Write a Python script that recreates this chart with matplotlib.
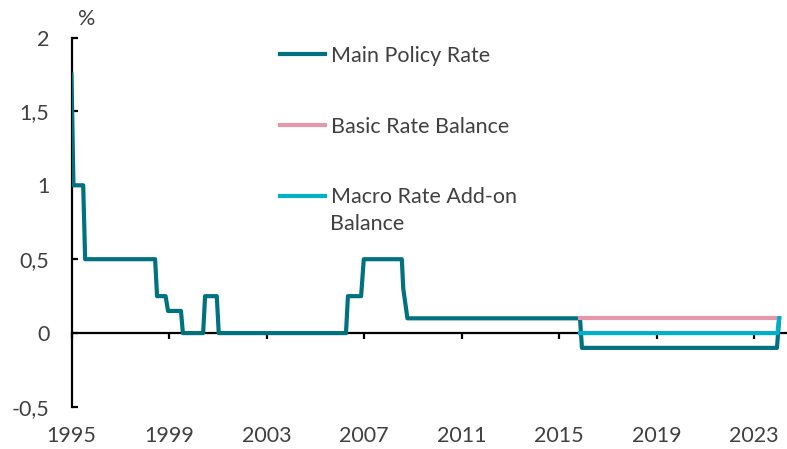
import numpy as np
import matplotlib
matplotlib.use("Agg")
from matplotlib import pyplot as plt

# main policy rate, vertices (year, %)
main_dates = [1995.0, 1995.08, 1995.48, 1995.56, 1998.43, 1998.51, 1998.86, 1998.96,
              1999.49, 1999.57, 2000.40, 2000.48, 2000.96, 2001.04, 2006.26, 2006.34,
              2006.88, 2006.99, 2008.55, 2008.61, 2008.78, 2015.86, 2015.94, 2023.94,
              2024.03]
main_rate = [1.75, 1.0, 1.0, 0.5, 0.5, 0.25, 0.25, 0.15,
             0.15, 0.0, 0.0, 0.25, 0.25, 0.0, 0.0, 0.25,
             0.25, 0.5, 0.5, 0.3, 0.1, 0.1, -0.1, -0.1,
             0.1]

basic_dates = [2015.86, 2023.88]
basic_rate = [0.1, 0.1]

macro_dates = [2015.86, 2023.96, 2024.03]
macro_rate = [0.0, 0.0, 0.1]

xticks = [1995, 1999, 2003, 2007, 2011, 2015, 2019, 2023]
yticks = [-0.5, 0, 0.5, 1, 1.5, 2]
ytick_labels = ['-0,5', '0', '0,5', '1', '1,5', '2']

c_main = '#00727F'
c_basic = '#E597AB'
c_macro = '#00AFC8'

plt.rcParams['font.family'] = ['Lato', 'DejaVu Sans']
plt.rcParams['font.size'] = 15.5
txt_col = '#404040'

fig = plt.figure(figsize=(7.87, 4.49), dpi=100)
ax = fig.add_axes([71.5/787, 1-407/449, (786-71.5)/787, (407-37.5)/449])

ax.plot(main_dates, main_rate, color=c_main, lw=3, zorder=3, label='Main Policy Rate')
ax.plot(basic_dates, basic_rate, color=c_basic, lw=3, zorder=3, label='Basic Rate Balance')
ax.plot(macro_dates, macro_rate, color=c_macro, lw=3, zorder=3, label='Macro Rate Add-on')

ax.set_xlim(1995, 2024.31)
ax.set_ylim(-0.5, 2)

for s in ['top', 'right']:
    ax.spines[s].set_visible(False)
ax.spines['bottom'].set_position(('data', 0))
ax.spines['bottom'].set_linewidth(1.6)
ax.spines['left'].set_linewidth(1.6)

ax.set_xticks(xticks)
ax.set_xticklabels([str(y) for y in xticks])
ax.set_yticks(yticks)
ax.set_yticklabels(ytick_labels)
ax.tick_params(axis='x', direction='out', length=4, width=1.6, pad=63, colors=txt_col)
ax.tick_params(axis='y', direction='in', length=4, width=1.6, pad=16, colors=txt_col)
ax.tick_params(axis='both', color='black')

leg = ax.legend(loc='upper left', bbox_to_anchor=(280/787, 1-46/449), bbox_transform=fig.transFigure,
                frameon=False, borderpad=0, borderaxespad=0, handlelength=2.1,
                handletextpad=0.25, labelspacing=2.35)
for t in leg.get_texts():
    t.set_color(txt_col)
fig.text(330/787, 1-224/449, 'Balance', color=txt_col, va='center', ha='left')

fig.text(78/787, 1-29/449, '%', color=txt_col, va='bottom')

fig.savefig('out.png', dpi=100)
